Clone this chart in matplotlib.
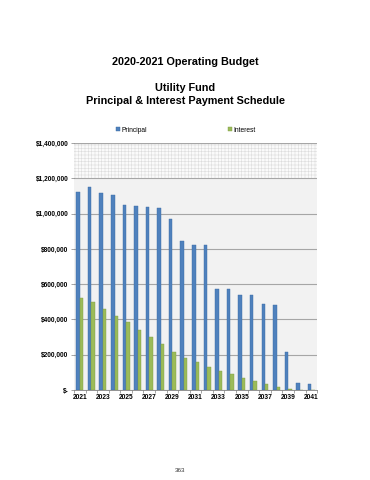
import numpy as np
import matplotlib.pyplot as plt
from matplotlib.ticker import FuncFormatter

plt.rcParams['font.family'] = ['Liberation Sans', 'DejaVu Sans']

# data
years = list(range(2021, 2042))
principal = [1122000, 1150000, 1117000, 1105000, 1049000, 1045000, 1037000,
             1030000, 969000, 845000, 820000, 820000, 572000, 572000,
             538000, 538000, 487000, 480000, 215000, 40000, 33000]
interest = [520000, 497000, 461000, 421000, 384000, 342000, 300000,
            259000, 217000, 183000, 157000, 132000, 108000, 89000,
            70000, 49000, 34000, 17000, 6000, 2000, 500]

blue = '#4f81bd'
green = '#9bbb59'

fig = plt.figure(figsize=(3.7, 4.8), dpi=100)
ax = fig.add_axes([0.2, 0.1875, 0.657, 0.5145])

x = np.arange(len(years))
w = 0.3
ax.bar(x - w / 2, principal, w, color=blue, edgecolor='#3a6aa3', linewidth=0.3,
       label='Principal', zorder=3)
ax.bar(x + w / 2, interest, w, color=green, edgecolor='#7f9c45', linewidth=0.3,
       label='Interest', zorder=3)

ax.set_xlim(-0.5, len(years) - 0.5)
ax.set_ylim(0, 1400000)

# background: gray plot area, fine checkered band at top
ax.set_facecolor('#f2f2f2')
plt.rcParams['hatch.linewidth'] = 0.4
ax.axhspan(1200000, 1400000, facecolor='#fafafa', edgecolor='#dcdcdc',
           hatch='+++++', linewidth=0, zorder=1)

yt = np.arange(0, 1400001, 200000)
ax.set_yticks(yt)
ax.yaxis.set_major_formatter(FuncFormatter(
    lambda v, p: '$-' if v == 0 else '${:,.0f}'.format(v)))
ax.grid(axis='y', color='#a6a6a6', linewidth=0.8, zorder=2)

ax.set_xticks(x[::2])
ax.set_xticklabels([str(y) for y in years[::2]])
ax.set_xticks(np.arange(-0.5, len(years), 1), minor=True)
ax.tick_params(axis='x', which='major', length=0, labelsize=4.8, pad=3)
ax.tick_params(axis='x', which='minor', length=2, width=0.5, color='#808080')
ax.tick_params(axis='y', length=2, width=0.5, color='#808080', labelsize=4.7, pad=2)
for lab in ax.get_xticklabels() + ax.get_yticklabels():
    lab.set_fontweight('bold')

for s in ['top', 'right', 'left']:
    ax.spines[s].set_visible(False)
ax.spines['bottom'].set_color('#808080')
ax.spines['bottom'].set_linewidth(0.6)

ax.legend(loc='lower center', bbox_to_anchor=(0.46, 1.0), ncol=2, frameon=False,
          fontsize=4.8, handlelength=0.6, handleheight=0.6, handletextpad=0.2,
          columnspacing=12.2, borderaxespad=1.0)

fig.text(0.5, 1 - 62 / 480, '2020-2021 Operating Budget', ha='center', va='center',
         fontsize=7.8, fontweight='bold')
fig.text(0.5, 1 - 88 / 480, 'Utility Fund', ha='center', va='center',
         fontsize=7.8, fontweight='bold')
fig.text(0.5, 1 - 101 / 480, 'Principal & Interest Payment Schedule', ha='center',
         va='center', fontsize=7.8, fontweight='bold')
fig.text(0.487, 1 - 470 / 480, '363', ha='center', va='center', fontsize=4.5,
         color='#333333')

fig.savefig('out.png', dpi=100)
